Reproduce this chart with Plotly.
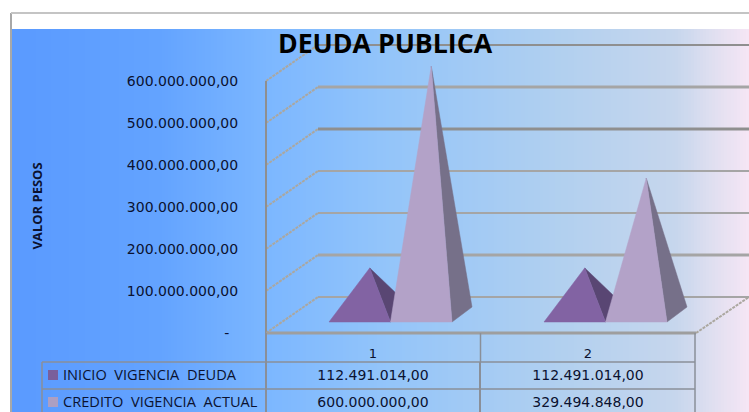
import numpy as np
import plotly.graph_objects as go

# ---- data
categories = ["1", "2"]
series_names = ["INICIO  VIGENCIA  DEUDA", "CREDITO  VIGENCIA  ACTUAL"]
inicio_vigencia_deuda = [112491014.00, 112491014.00]
credito_vigencia_actual = [600000000.00, 329494848.00]
tick_values = [0, 100000000, 200000000, 300000000, 400000000, 500000000, 600000000]
tick_labels = ["-\u00a0\u00a0", "100.000.000,00", "200.000.000,00", "300.000.000,00",
               "400.000.000,00", "500.000.000,00", "600.000.000,00"]

# ---- layout / style
W, H = 749, 412
PX_PER_VALUE = 42 / 100000000      # screen pixels per peso on the value axis
Y0_PX = 333                        # pixel row of value 0 on the front of the axis


def py(px):
    """value-axis position of a pixel row (for the furniture of the 3-D box)"""
    return (Y0_PX - px) / PX_PER_VALUE


FONT = "Open Sans, Noto Sans, sans-serif"
NUM_FONT = "DejaVu Sans, sans-serif"
TEXT = "#0b1230"
GRID = "#9a9a9a"
TABLE = "#8a8f98"
FRONT = ["#8263a3", "#b3a2c8"]
SIDE = ["#594673", "#767089"]
KEY = ["#7a5f9b", "#ad9fc2"]

fig = go.Figure()

# gradient background
gx = np.linspace(11, W, 241)
fig.add_trace(go.Heatmap(
    x=gx, y=[py(H), py(29)], z=[(gx[:-1] + gx[1:]) / 2], showscale=False, hoverinfo="skip",
    zmin=11, zmax=W,
    colorscale=[[0, "#5a9aff"], [0.2, "#63a3ff"], [0.35, "#7cb7ff"], [0.5, "#92c4fa"],
                [0.75, "#b2d0ef"], [0.9, "#c6d6ed"], [0.95, "#dfdff0"], [1, "#f6e6f5"]]))


def line(xs, pxs, color=GRID, width=2, dash="solid"):
    fig.add_trace(go.Scatter(x=xs, y=[py(p) for p in pxs], mode="lines", showlegend=False,
                             hoverinfo="skip", line=dict(color=color, width=width, dash=dash)))


# frame
line([11, 11], [13, H], "#a8a8a8", 2)
line([11, W], [13, 13], "#c4c4c4", 2)

# gridlines on the walls
DEPTH_X, DEPTH_Y = 52, 36
DIAG_DASH = "3px,1px"
for v in tick_values:
    front = Y0_PX - v * PX_PER_VALUE
    back = front - DEPTH_Y
    line([266, 266 + DEPTH_X], [front, back], "#aba79f", 2, DIAG_DASH)
    line([266 + DEPTH_X, W], [back, back], "#8f8f8f" if v in (400000000, 600000000) else "#a5a5a5",
         3 if v in (100000000, 400000000, 500000000) else 2)
line([696, W], [Y0_PX, Y0_PX - DEPTH_Y], "#aba79f", 2, DIAG_DASH)
line([266, 266], [81, Y0_PX], "#8f8f8f", 2)
line([266, 696], [Y0_PX, Y0_PX], "#9e9e9e", 3)

# pyramids
GROUP_X = [329, 544]
BASE_W = 61.5
BASE_PX = 322
SIDE_DX, SIDE_DY = 20, 15
CENTER_LIFT = py(BASE_PX - SIDE_DY / 2)


def pyramid(left, value, s):
    right = left + BASE_W
    apex_x = left + BASE_W / 2 + SIDE_DX / 2
    apex_y = CENTER_LIFT + value * 0.985
    base = py(BASE_PX)
    back = py(BASE_PX - SIDE_DY)
    fig.add_trace(go.Scatter(x=[right, right + SIDE_DX, apex_x, right], y=[base, back, apex_y, base],
                             mode="lines", fill="toself", fillcolor=SIDE[s], showlegend=False,
                             line=dict(color=SIDE[s], width=0.5), hoverinfo="skip"))
    fig.add_trace(go.Scatter(x=[left, right, apex_x, left], y=[base, base, apex_y, base],
                             mode="lines", fill="toself", fillcolor=FRONT[s], showlegend=False,
                             name=series_names[s], line=dict(color=FRONT[s], width=0.5),
                             hovertemplate="%{text}", text=[f"{value:,.2f}"] * 4))


for i in range(len(categories)):
    pyramid(GROUP_X[i], inicio_vigencia_deuda[i], 0)
    pyramid(GROUP_X[i] + BASE_W, credito_vigencia_actual[i], 1)

# data table
ROW_PX = [362, 389, 412]
line([480.5, 480.5], [333, 362], TABLE, 1.5)
line([695, 695], [333, 412], TABLE, 1.5)
line([266, 266], [333, 412], TABLE, 2)
line([480, 480], [362, 412], TABLE, 2)
line([42, 42], [362, 412], TABLE, 1.5)
for p in ROW_PX[:2]:
    line([42, 695], [p, p], TABLE, 1.5)


def fmt(v):
    return f"{v:,.2f}".replace(",", "X").replace(".", ",").replace("X", ".")


def text(x, px, labels, pos="middle center", family=NUM_FONT, size=14):
    fig.add_trace(go.Scatter(x=x, y=[py(p) for p in px], text=labels, mode="text",
                             textposition=pos, showlegend=False, hoverinfo="skip", cliponaxis=False,
                             textfont=dict(family=family, size=size, color=TEXT)))


CENTERS = [373, 588]
text(CENTERS, [355, 355], categories, size=13)
text(CENTERS, [376, 376], [fmt(v) for v in inicio_vigencia_deuda])
text(CENTERS, [403, 403], [fmt(v) for v in credito_vigencia_actual])
text([63, 63], [376, 403], series_names, "middle right", FONT, 14.6)
fig.add_trace(go.Scatter(x=[53, 53], y=[py(375), py(402)], mode="markers", showlegend=False, hoverinfo="skip",
                         marker=dict(symbol="square", size=10, color=KEY)))

fig.update_layout(
    width=W, height=H, margin=dict(l=0, r=0, t=0, b=0),
    paper_bgcolor="white", plot_bgcolor="white", autosize=False, showlegend=False,
    title=dict(text="<b>DEUDA PUBLICA</b>", x=385 / W, xanchor="center", y=1 - 44 / H, yanchor="middle",
               font=dict(family=FONT, size=26.7, color="black")),
    xaxis=dict(range=[0, W], visible=False, domain=[0, 1], fixedrange=True),
    yaxis=dict(range=[py(H), py(0)], domain=[0, 1], anchor="free", position=266 / W,
               tickvals=tick_values, ticktext=tick_labels, showgrid=False, zeroline=False,
               ticks="outside", ticklen=25, tickcolor="rgba(0,0,0,0)", showline=False,
               tickfont=dict(family=NUM_FONT, size=14, color=TEXT), fixedrange=True,
               title=dict(text="<b>VALOR PESOS</b>", standoff=80,
                          font=dict(family=FONT, size=13, color=TEXT))),
)
fig.write_html("out.html", config={"displayModeBar": False},
               post_script="document.body.style.margin='0';document.documentElement.style.overflow='hidden';")
